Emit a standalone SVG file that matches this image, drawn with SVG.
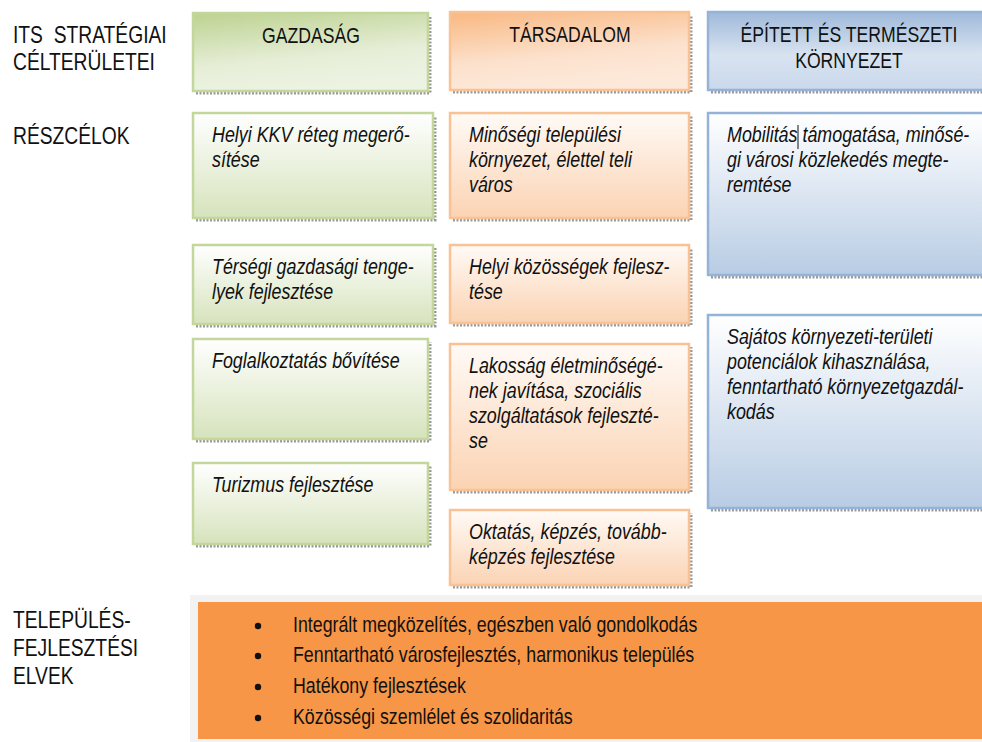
<svg xmlns="http://www.w3.org/2000/svg" width="982" height="742" viewBox="0 0 982 742">
<defs>
<linearGradient id="gHdr" x1="0.2" y1="0" x2="0.5" y2="1"><stop offset="0" stop-color="#c0d496"/><stop offset="0.6" stop-color="#e6eed7"/><stop offset="1" stop-color="#edf3e3"/></linearGradient>
<linearGradient id="oHdr" x1="0.2" y1="0" x2="0.5" y2="1"><stop offset="0" stop-color="#f9bb87"/><stop offset="0.6" stop-color="#fce2ce"/><stop offset="1" stop-color="#fde9da"/></linearGradient>
<linearGradient id="bHdr" x1="0" y1="0" x2="0" y2="1"><stop offset="0" stop-color="#9fb9da"/><stop offset="0.55" stop-color="#d8e3f0"/><stop offset="1" stop-color="#c9d8eb"/></linearGradient>
<linearGradient id="gBox" x1="0" y1="0" x2="0" y2="1"><stop offset="0" stop-color="#ffffff"/><stop offset="1" stop-color="#d6e3bc"/></linearGradient>
<linearGradient id="oBox" x1="0" y1="0" x2="0" y2="1"><stop offset="0" stop-color="#fffaf6"/><stop offset="1" stop-color="#fbd3b3"/></linearGradient>
<linearGradient id="bBox" x1="0" y1="0" x2="0" y2="1"><stop offset="0" stop-color="#ffffff"/><stop offset="1" stop-color="#b8cce4"/></linearGradient>
</defs>
<style>
.lbl{font-family:"Liberation Sans",Arial,sans-serif;font-size:23.5px;fill:#111}
.hd{font-family:"Liberation Sans",Arial,sans-serif;font-size:21.5px;fill:#111;text-anchor:middle}
.bt{font-family:"Liberation Sans",Arial,sans-serif;font-size:21.8px;font-style:italic;fill:#111}
.lt{font-family:"Liberation Sans",Arial,sans-serif;font-size:21.7px;fill:#111}
.g{stroke:#c3d69b;stroke-width:2.5}
.o{stroke:#f9c295;stroke-width:2.5}
.b{stroke:#95b3d7;stroke-width:2.5}
.sh{fill:none;stroke:#9a9a9a;stroke-width:3;stroke-dasharray:2 1.5}
</style>

<g id="labels">
<text class="lbl" transform="translate(13,43) scale(0.82,1)" xml:space="preserve">ITS  STRATÉGIAI</text>
<text class="lbl" transform="translate(13,70) scale(0.82,1)">CÉLTERÜLETEI</text>
<text class="lbl" transform="translate(13,144) scale(0.82,1)">RÉSZCÉLOK</text>
<text class="lbl" transform="translate(13,628) scale(0.82,1)"><tspan x="0" y="0">TELEPÜLÉS-</tspan><tspan x="0" y="28">FEJLESZTÉSI</tspan><tspan x="0" y="56">ELVEK</tspan></text>
</g>

<g id="hdr-gazdasag">
<polyline class="sh" points="196,93 430,93 430,16"/>
<rect x="193" y="13" width="235" height="78" fill="url(#gHdr)" class="g"/>
<text class="hd" transform="translate(311,43) scale(0.82,1)">GAZDASÁG</text>
</g>
<g id="hdr-tarsadalom">
<polyline class="sh" points="453,92 691,92 691,15"/>
<rect x="450" y="12" width="239" height="78" fill="url(#oHdr)" class="o"/>
<text class="hd" transform="translate(570,41.5) scale(0.82,1)">TÁRSADALOM</text>
</g>
<g id="hdr-epitett">
<polyline class="sh" points="711,92 990,92"/>
<rect x="708" y="12" width="290" height="78" fill="url(#bHdr)" class="b"/>
<text class="hd" transform="translate(849,41.5) scale(0.82,1)"><tspan x="0" y="0">ÉPÍTETT ÉS TERMÉSZETI</tspan><tspan x="0" y="27">KÖRNYEZET</tspan></text>
</g>

<g id="kkv">
<polyline class="sh" points="196,220 435,220 435,116"/>
<rect x="193" y="113" width="240" height="105" fill="url(#gBox)" class="g"/>
<text class="bt" transform="translate(212,142) scale(0.82,1)"><tspan x="0" y="0">Helyi KKV réteg megerő-</tspan><tspan x="0" y="25">sítése</tspan></text>
</g>
<g id="tersegi">
<polyline class="sh" points="196,326 435,326 435,248"/>
<rect x="193" y="245" width="240" height="79" fill="url(#gBox)" class="g"/>
<text class="bt" transform="translate(212,274) scale(0.82,1)"><tspan x="0" y="0">Térségi gazdasági tenge-</tspan><tspan x="0" y="25">lyek fejlesztése</tspan></text>
</g>
<g id="foglalkoztatas">
<polyline class="sh" points="196,441 430,441 430,342"/>
<rect x="193" y="339" width="235" height="100" fill="url(#gBox)" class="g"/>
<text class="bt" transform="translate(212,368) scale(0.82,1)">Foglalkoztatás bővítése</text>
</g>
<g id="turizmus">
<polyline class="sh" points="196,546 430,546 430,466"/>
<rect x="193" y="463" width="235" height="81" fill="url(#gBox)" class="g"/>
<text class="bt" transform="translate(212,492) scale(0.82,1)">Turizmus fejlesztése</text>
</g>

<g id="minosegi">
<polyline class="sh" points="453,220 691,220 691,116"/>
<rect x="450" y="113" width="239" height="105" fill="url(#oBox)" class="o"/>
<text class="bt" transform="translate(469,142) scale(0.82,1)"><tspan x="0" y="0">Minőségi települési</tspan><tspan x="0" y="25">környezet, élettel teli</tspan><tspan x="0" y="50">város</tspan></text>
</g>
<g id="helyikozossegek">
<polyline class="sh" points="453,325 691,325 691,248"/>
<rect x="450" y="245" width="239" height="78" fill="url(#oBox)" class="o"/>
<text class="bt" transform="translate(469,274) scale(0.82,1)"><tspan x="0" y="0">Helyi közösségek fejlesz-</tspan><tspan x="0" y="25">tése</tspan></text>
</g>
<g id="lakossag">
<polyline class="sh" points="453,492 691,492 691,347"/>
<rect x="450" y="344" width="239" height="146" fill="url(#oBox)" class="o"/>
<text class="bt" transform="translate(469,373) scale(0.82,1)"><tspan x="0" y="0">Lakosság életminőségé-</tspan><tspan x="0" y="25">nek javítása, szociális</tspan><tspan x="0" y="50">szolgáltatások fejleszté-</tspan><tspan x="0" y="75">se</tspan></text>
</g>
<g id="oktatas">
<polyline class="sh" points="453,587 691,587 691,513"/>
<rect x="450" y="510" width="239" height="75" fill="url(#oBox)" class="o"/>
<text class="bt" transform="translate(469,539) scale(0.82,1)"><tspan x="0" y="0">Oktatás, képzés, tovább-</tspan><tspan x="0" y="25">képzés fejlesztése</tspan></text>
</g>

<g id="mobilitas">
<polyline class="sh" points="711,277 990,277"/>
<rect x="708" y="113" width="290" height="162" fill="url(#bBox)" class="b"/>
<text class="bt" transform="translate(727,142) scale(0.82,1)"><tspan x="0" y="0">Mobilitás támogatása, minősé-</tspan><tspan x="0" y="25">gi városi közlekedés megte-</tspan><tspan x="0" y="50">remtése</tspan></text>
<line x1="798" y1="125" x2="798" y2="149" stroke="#111" stroke-width="1"/>
</g>
<g id="sajatos">
<polyline class="sh" points="711,510 990,510"/>
<rect x="708" y="315" width="290" height="193" fill="url(#bBox)" class="b"/>
<text class="bt" transform="translate(727,344) scale(0.82,1)"><tspan x="0" y="0">Sajátos környezeti-területi</tspan><tspan x="0" y="25">potenciálok kihasználása,</tspan><tspan x="0" y="50">fenntartható környezetgazdál-</tspan><tspan x="0" y="75">kodás</tspan></text>
</g>

<g id="elvek">
<rect x="190" y="595" width="800" height="150" fill="#f2f2f2"/>
<rect x="198" y="602" width="790" height="137" fill="#f79646"/>
<g fill="#111">
<circle cx="258" cy="626" r="3.2"/>
<circle cx="258" cy="656" r="3.2"/>
<circle cx="258" cy="687" r="3.2"/>
<circle cx="258" cy="718" r="3.2"/>
</g>
<text class="lt" transform="translate(293,632) scale(0.82,1)">Integrált megközelítés, egészben való gondolkodás</text>
<text class="lt" transform="translate(293,662) scale(0.82,1)">Fenntartható városfejlesztés, harmonikus település</text>
<text class="lt" transform="translate(293,692.5) scale(0.82,1)">Hatékony fejlesztések</text>
<text class="lt" transform="translate(293,723.5) scale(0.82,1)">Közösségi szemlélet és szolidaritás</text>
</g>
</svg>
